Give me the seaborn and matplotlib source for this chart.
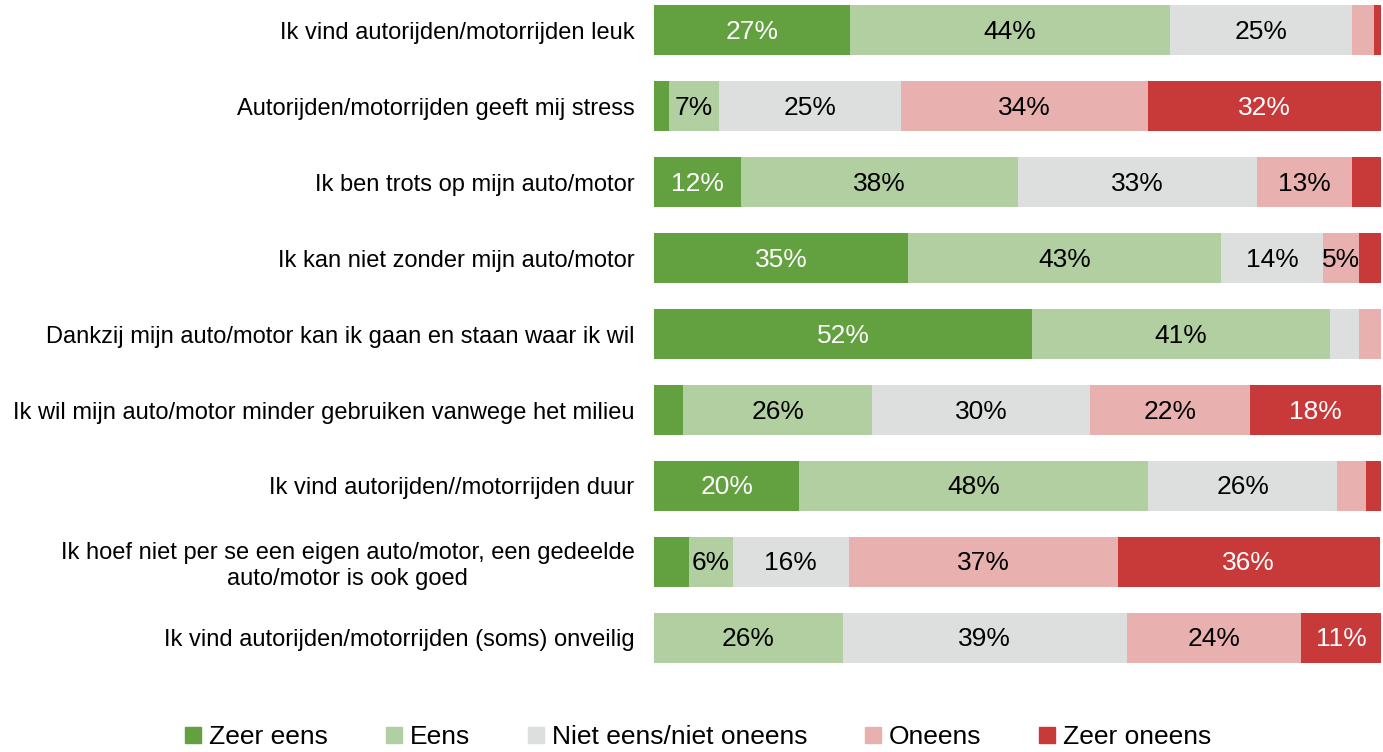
import matplotlib
matplotlib.use("Agg")
import matplotlib.pyplot as plt
from matplotlib.lines import Line2D
import seaborn as sns
import pandas as pd

# uitspraken en antwoordcategorieen
uitspraken = [
    "Ik vind autorijden/motorrijden leuk",
    "Autorijden/motorrijden geeft mij stress",
    "Ik ben trots op mijn auto/motor",
    "Ik kan niet zonder mijn auto/motor",
    "Dankzij mijn auto/motor kan ik gaan en staan waar ik wil",
    "Ik wil mijn auto/motor minder gebruiken vanwege het milieu",
    "Ik vind autorijden//motorrijden duur",
    "Ik hoef niet per se een eigen auto/motor, een gedeelde\nauto/motor is ook goed",
    "Ik vind autorijden/motorrijden (soms) onveilig",
]
antwoorden = ["Zeer eens", "Eens", "Niet eens/niet oneens", "Oneens", "Zeer oneens"]

zeer_eens = [27, 2, 12, 35, 52, 4, 20, 4.8, 0]
eens = [44, 7, 38, 43, 41, 26, 48, 6, 26]
neutraal = [25, 25, 33, 14, 4, 30, 26, 16, 39]
oneens = [3, 34, 13, 5, 3, 22, 4, 37, 24]
zeer_oneens = [1, 32, 4, 3, 0, 18, 2, 36, 11]

kleuren = ["#63a03f", "#b2cfa2", "#dddfde", "#e9b0b0", "#c8393a"]
tekstkleur = ["white", "black", "black", "black", "white"]

plt.rcParams["font.family"] = ["Liberation Sans", "DejaVu Sans"]
fs = 17

df = pd.DataFrame({"uitspraak": uitspraken})
reeksen = [zeer_eens, eens, neutraal, oneens, zeer_oneens]
for naam, r in zip(antwoorden, reeksen):
    df[naam] = r

fig = plt.figure(figsize=(13.83, 7.52), dpi=100)
ax = fig.add_axes([654 / 1383, 80 / 752, 727 / 1383, 672 / 752])

cum = df[antwoorden].cumsum(axis=1)
# van achter naar voren tekenen, zodat de stapels kloppen
for i in range(len(antwoorden) - 1, -1, -1):
    sns.barplot(x=cum[antwoorden[i]], y=df["uitspraak"], orient="h",
                color=kleuren[i], width=0.66, saturation=1, ax=ax)

for i, naam in enumerate(antwoorden):
    links = cum[naam] - df[naam]
    for j, v in enumerate(df[naam]):
        if v >= 5:
            ax.text(links[j] + v / 2, j + 0.02, f"{v:.0f}%", ha="center", va="center",
                    fontsize=19, color=tekstkleur[i])

ax.set_xlim(0, 100)
ax.set_ylim(8.45, -0.4)
ax.set_xlabel("")
ax.set_ylabel("")
ax.set_xticks([])
for s in ax.spines.values():
    s.set_visible(False)

# tweeregelig label gecentreerd, alles rechts uitgelijnd tegen de balken
ax.set_yticks(range(len(uitspraken)))
ax.set_yticklabels(uitspraken, ha="right", multialignment="center")
ax.tick_params(axis="y", length=0, labelsize=fs, pad=14)

handles = [Line2D([0], [0], marker="s", linestyle="", markersize=11,
                  markerfacecolor=k, markeredgecolor=k) for k in kleuren]
fig.legend(handles, antwoorden, loc="lower center", bbox_to_anchor=(0.503, -0.028),
           ncol=5, frameon=False, fontsize=19, handletextpad=0.1,
           columnspacing=2.0, handlelength=1.0)

fig.savefig("out.png", dpi=100)
